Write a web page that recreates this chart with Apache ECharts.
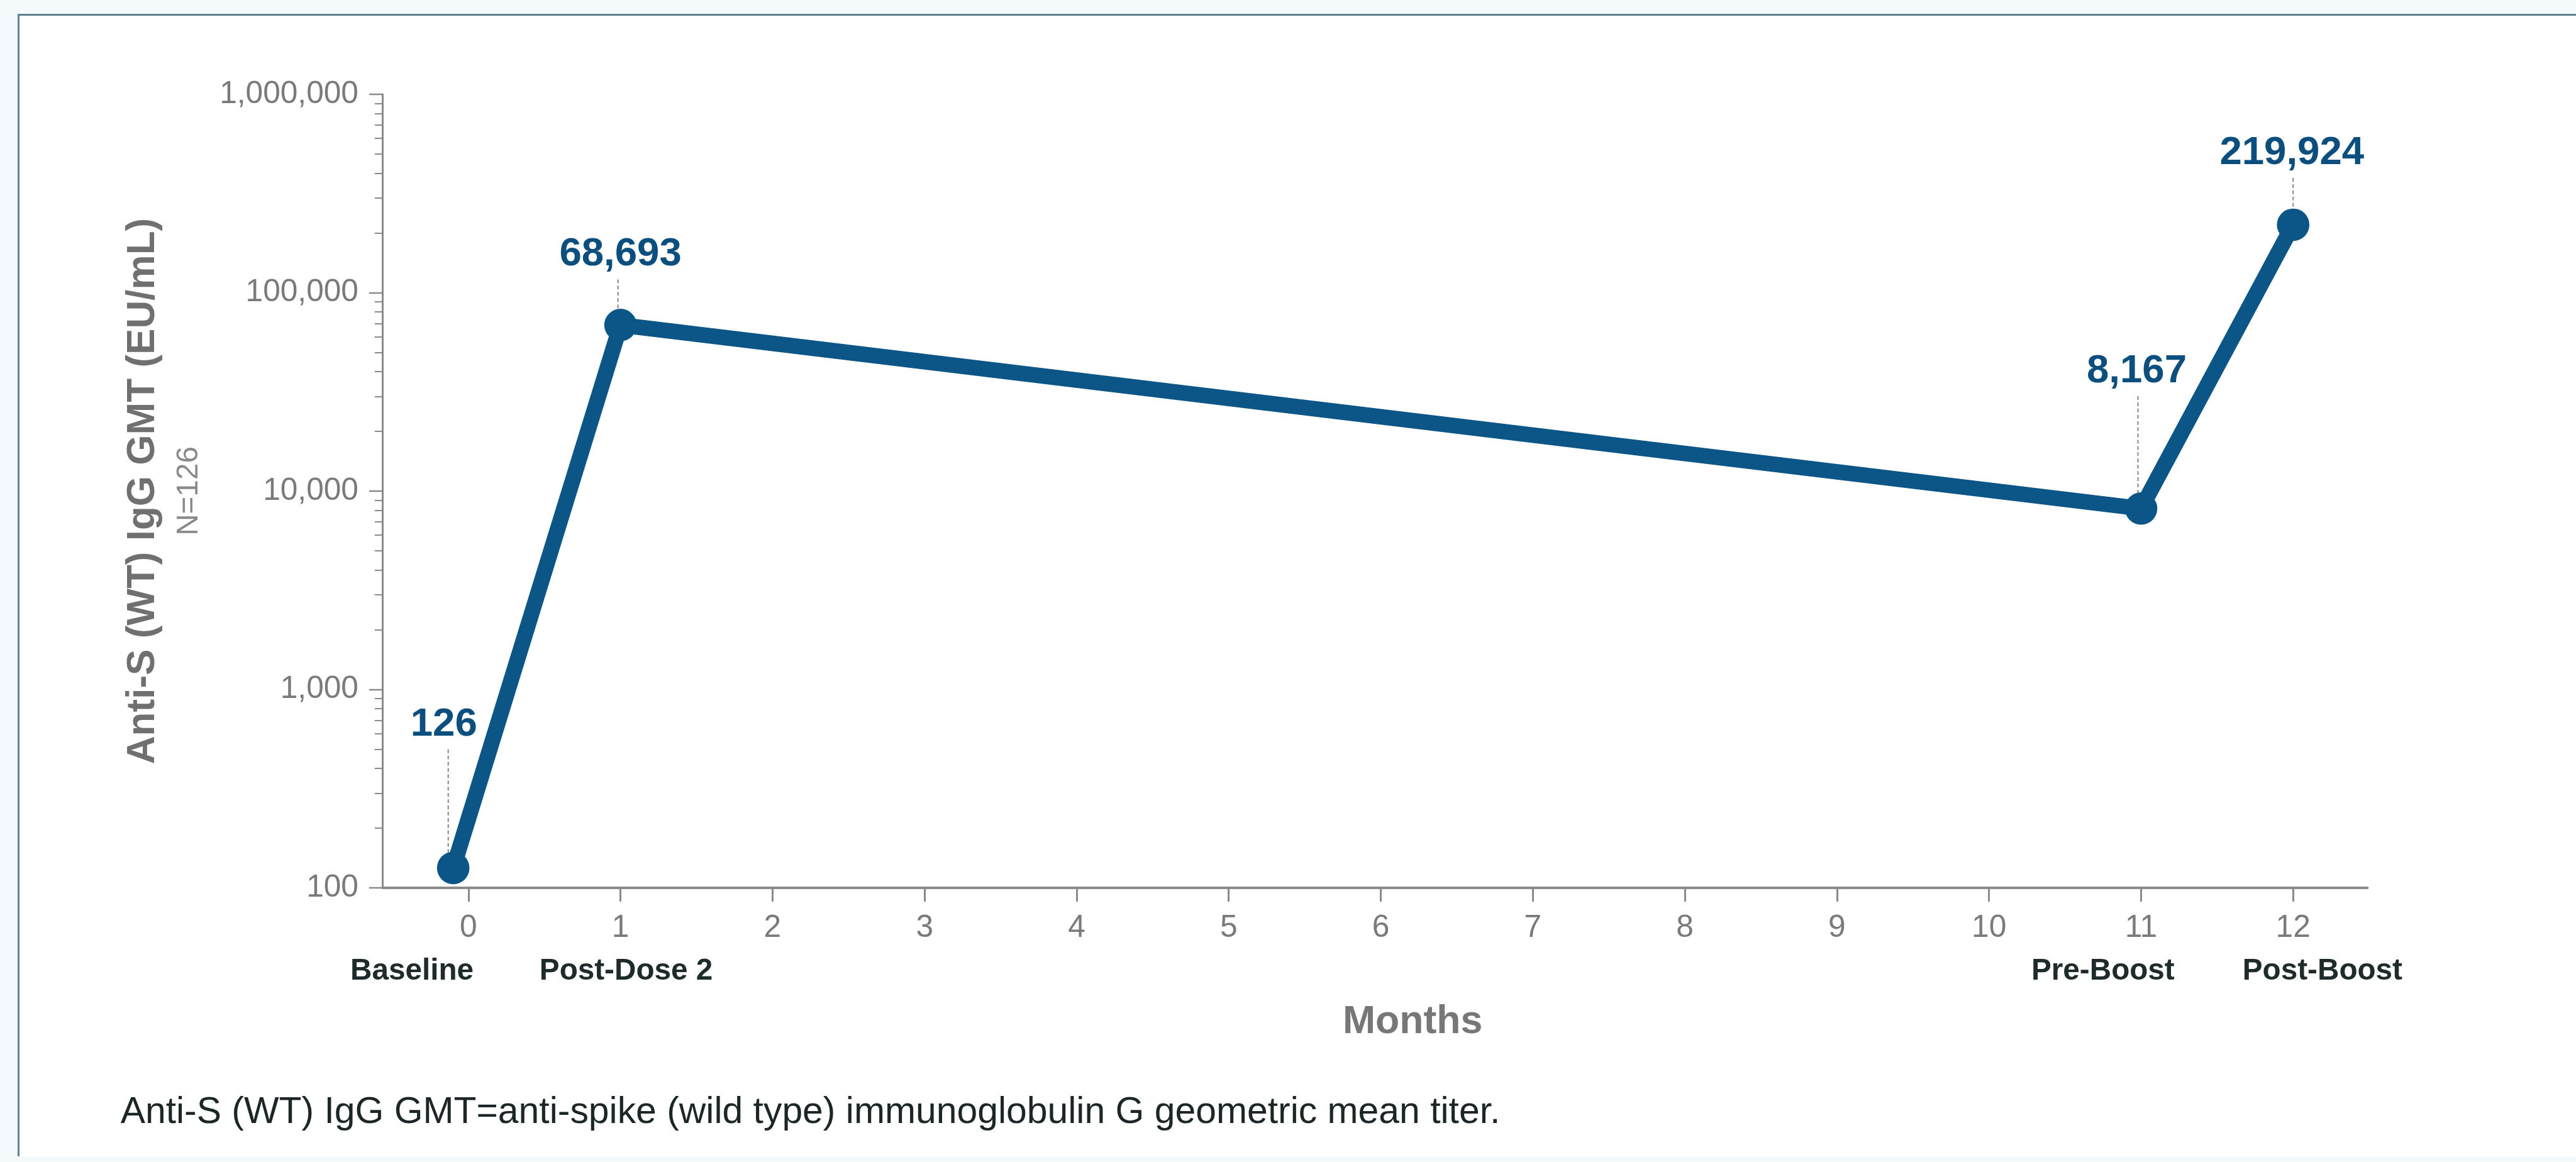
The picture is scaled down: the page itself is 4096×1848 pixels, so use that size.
<!DOCTYPE html>
<html>
<head>
<meta charset="utf-8">
<script src="https://cdn.jsdelivr.net/npm/echarts@6/dist/echarts.min.js"></script>
<style>
  html, body { margin: 0; padding: 0; background: #f4fafc; overflow: hidden; }
  #frame { position: absolute; left: 27.8px; top: 21.8px; width: 4200px; height: 1817px;
           background: #ffffff; border-left: 3px solid #5d8292; border-top: 3px solid #5d8292; box-sizing: border-box; }
  #c { position: absolute; left: 0; top: 0; width: 4096px; height: 1848px; }
</style>
</head>
<body>
<div id="frame"></div>
<div id="c"></div>
<script>
// ---------------- data ----------------
const months = [-0.1, 1, 11, 12];
const gmt = [126, 68693, 8167, 219924];
const timepoints = ['Baseline', 'Post-Dose 2', 'Pre-Boost', 'Post-Boost'];
const monthTicks = [0, 1, 2, 3, 4, 5, 6, 7, 8, 9, 10, 11, 12];
const decades = [100, 1000, 10000, 100000];
const minorMultipliers = [2, 3, 4, 5, 6, 7, 8, 9];
const yTitle = 'Anti-S (WT) IgG GMT (EU/mL)';
const nLabel = 'N=126';
const xTitle = 'Months';
const footnote = 'Anti-S (WT) IgG GMT=anti-spike (wild type) immunoglobulin G geometric mean titer.';

// ---------------- layout (reference px, scaled by S) ----------------
const S = 0.993;
const labelLift = [230, 113, 220, 115];   // value label centre above point centre
const labelShift = [-15, 0, -7, -2];      // value label horizontal shift
const leaderShift = [-8, -4, -5, 0];      // dashed leader horizontal shift
const catShift = [-66, 9, -61, 47];       // time-point label horizontal shift
const FONT = '"Liberation Sans", Arial, Helvetica, sans-serif';
const BLUE = '#0b5687';
const LABEL_BLUE = '#0c4f7f';
const AXIS = '#8a8a8a';

const minorLog = [];
decades.forEach(d => minorMultipliers.forEach(m => minorLog.push(Math.log10(d * m))));

const points = months.map((m, i) => [m, gmt[i]]);

const chart = echarts.init(document.getElementById('c'), null, { renderer: 'canvas' });
chart.setOption({
  animation: false,
  backgroundColor: 'transparent',
  grid: { left: 613 * S, right: 4096 - 3791 * S, top: 151 * S, bottom: 1848 - 1422 * S, containLabel: false, outerBoundsMode: 'none' },
  xAxis: {
    type: 'value', min: -0.563, max: 12.489,
    axisLine: { onZero: false, lineStyle: { color: AXIS, width: 4 * S } },
    axisTick: { customValues: monthTicks, length: 22 * S, lineStyle: { color: AXIS, width: 3 * S } },
    axisLabel: { customValues: monthTicks, margin: 40 * S, color: '#7a7a7a', fontSize: 50 * S, fontFamily: FONT },
    splitLine: { show: false },
    name: xTitle, nameLocation: 'middle', nameGap: 184 * S, nameMoveOverlap: false,
    nameTextStyle: { color: '#777777', fontSize: 63 * S, fontWeight: 'bold', fontFamily: FONT, lineHeight: 63 * S, padding: [0, 0, 0, 120 * S] }
  },
  yAxis: [{
    type: 'log', logBase: 10, min: 100, max: 1000000,
    axisLine: { onZero: false, lineStyle: { color: AXIS, width: 3 * S } },
    axisTick: { length: 22 * S, lineStyle: { color: AXIS, width: 2.5 * S } },
    axisLabel: { margin: 39 * S, color: '#7a7a7a', fontSize: 50 * S, fontFamily: FONT,
                 formatter: v => Number(v).toLocaleString('en-US') },
    splitLine: { show: false },
    minorTick: { show: false },
    name: '{t|' + yTitle + '}\n{n|' + nLabel + '}',
    nameLocation: 'middle', nameGap: 277 * S, nameMoveOverlap: false,
    nameTextStyle: {
      rich: {
        t: { color: '#707070', fontSize: 62.5 * S, fontWeight: 'bold', fontFamily: FONT, lineHeight: 80 * S },
        n: { color: '#8a8a8a', fontSize: 48 * S, fontFamily: FONT, lineHeight: 67 * S }
      }
    }
  }, {
    type: 'value', min: 2, max: 6, position: 'left',
    axisLine: { show: false, onZero: false },
    axisTick: { customValues: minorLog, length: 13 * S, lineStyle: { color: AXIS, width: 2 * S } },
    axisLabel: { show: false },
    splitLine: { show: false }
  }],
  series: [{
    type: 'custom',
    z: 1,
    clip: false,
    data: points,
    encode: { x: 0, y: 1 },
    renderItem: (params, api) => {
      const i = params.dataIndex;
      const p = api.coord([api.value(0), api.value(1)]);
      const axisY = api.coord([api.value(0), 100])[1];
      const lx = p[0] + leaderShift[i] * S;
      const ly = p[1] - labelLift[i] * S;
      return {
        type: 'group',
        children: [
          { type: 'line', shape: { x1: lx, y1: ly + 40 * S, x2: lx, y2: p[1] },
            style: { stroke: '#8f8f8f', lineWidth: 2.2 * S, lineDash: [6 * S, 4 * S] } },
          { type: 'text', style: { text: gmt[i].toLocaleString('en-US'), x: p[0] + labelShift[i] * S, y: ly,
              align: 'center', verticalAlign: 'middle', fill: LABEL_BLUE,
              fontSize: 64 * S, fontWeight: 'bold', fontFamily: FONT } },
          { type: 'text', style: { text: timepoints[i], x: p[0] + catShift[i] * S, y: axisY + 134 * S,
              align: 'center', verticalAlign: 'middle', fill: '#1f2a2b',
              fontSize: 48 * S, fontWeight: 'bold', fontFamily: FONT } }
        ]
      };
    }
  }, {
    type: 'line',
    z: 3,
    data: points,
    symbol: 'circle',
    symbolSize: 52 * S,
    itemStyle: { color: BLUE },
    lineStyle: { color: BLUE, width: 25 * S },
    label: { show: false }
  }],
  graphic: [{
    type: 'text', left: 193 * S, top: 1783 * S - 30 * S,
    style: { text: footnote, fill: '#1c2626', fontSize: 59.3 * S, fontFamily: FONT }
  }]
});
</script>
</body>
</html>
